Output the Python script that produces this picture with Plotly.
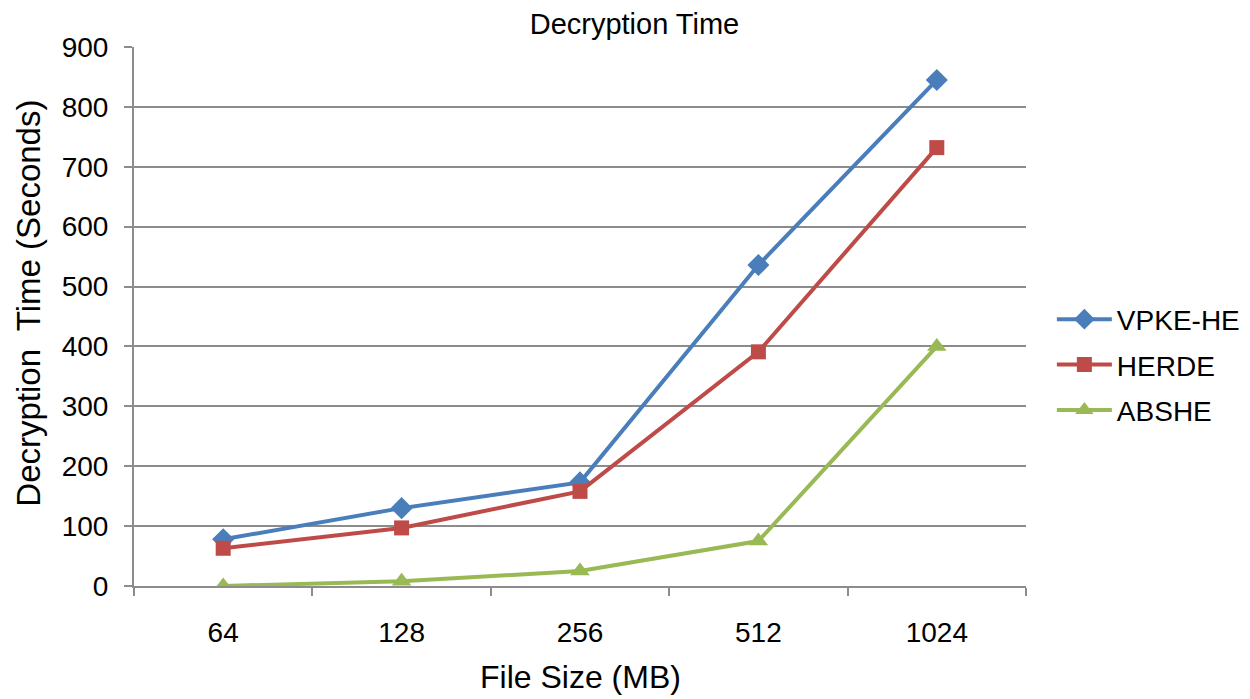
import plotly.graph_objects as go

# ── Data ───────────────────────────────────────────────────────────────────
file_sizes = ["64", "128", "256", "512", "1024"]
vpke_he = [78, 130, 173, 536, 845]
herde = [63, 97, 158, 391, 732]
abshe = [0, 8, 25, 75, 400]

FONT = "Liberation Sans, Arial, sans-serif"
GRID = "#8c8c8c"

series = [
    ("VPKE-HE", vpke_he, "#4A7EBB", "diamond", 17),
    ("HERDE", herde, "#BE4B48", "square", 15),
    ("ABSHE", abshe, "#98B954", "triangle-up", 17),
]

fig = go.Figure()
for name, vals, color, symbol, size in series:
    fig.add_trace(go.Scatter(
        x=file_sizes, y=vals,
        mode="lines+markers",
        name=name, legendgroup=name,
        line=dict(color=color, width=4),
        marker=dict(color=color, symbol=symbol, size=size),
    ))

# axis titles as annotations, so they sit where the original puts them
fig.add_annotation(text="Decryption  Time (Seconds)", textangle=-90,
                   xref="paper", yref="paper", x=-0.1192, y=0.525,
                   xanchor="center", yanchor="middle", showarrow=False,
                   font=dict(size=33))
fig.add_annotation(text="File Size (MB)",
                   xref="paper", yref="paper", x=0.5, y=-0.1688,
                   xanchor="center", yanchor="middle", showarrow=False,
                   font=dict(size=32))

# page body has an 8px margin, so the figure is a little smaller than the window
fig.update_layout(
    width=1242, height=691,
    paper_bgcolor="white",
    plot_bgcolor="white",
    font=dict(family=FONT, color="#000000", size=28),
    margin=dict(l=126, r=224, t=39, b=113, autoexpand=False),
    title=dict(text="Decryption Time", x=0.5044, xanchor="center",
               yref="container", y=1 - 16 / 691, yanchor="middle",
               font=dict(size=29)),
    showlegend=True,
    legend=dict(
        x=1.029, y=0.41, xanchor="left", yanchor="middle",
        font=dict(size=28), bgcolor="rgba(0,0,0,0)",
        itemwidth=55, tracegroupgap=6,
    ),
    xaxis=dict(
        type="category", range=[-0.5, 4.5],
        showline=True, linecolor=GRID, linewidth=2,
        ticks="outside", tickson="boundaries", ticklen=8, tickcolor=GRID, tickwidth=2,
        showgrid=False,
        tickfont=dict(size=28), ticklabelstandoff=20,
    ),
    yaxis=dict(
        range=[0, 900], dtick=100,
        showline=True, linecolor=GRID, linewidth=2,
        ticks="outside", ticklen=8, tickcolor=GRID, tickwidth=2,
        showgrid=True, gridcolor=GRID, gridwidth=2,
        zeroline=False,
        tickfont=dict(size=28), ticklabelstandoff=10,
    ),
)

fig.write_html("out.html")
